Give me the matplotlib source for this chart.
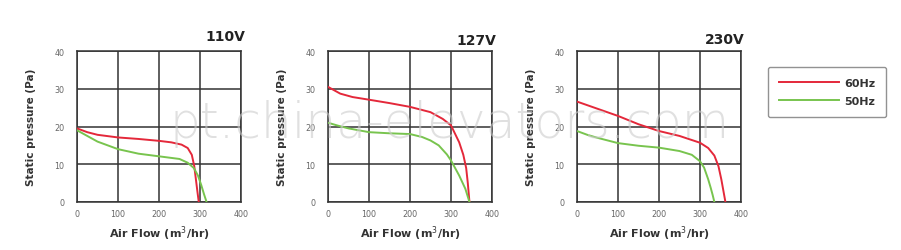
import matplotlib
matplotlib.use("Agg")
import matplotlib.pyplot as plt
from matplotlib.lines import Line2D

# Fan curves: airflow (m3/hr) -> static pressure (Pa)
titles = ["110V", "127V", "230V"]

flow_60_110 = [0, 25, 50, 100, 150, 200, 230, 255, 270, 280, 286, 290, 294, 297]
pres_60_110 = [19.5, 18.5, 17.8, 17.1, 16.7, 16.2, 15.8, 15.2, 14.3, 12.5, 9.5, 6.0, 2.5, 0]
flow_50_110 = [0, 25, 50, 100, 150, 200, 250, 270, 285, 295, 303, 310, 316]
pres_50_110 = [19.0, 17.5, 16.0, 14.0, 12.8, 12.1, 11.4, 10.4, 9.0, 7.0, 4.5, 2.0, 0]

flow_60_127 = [0, 15, 30, 60, 100, 150, 200, 250, 280, 300, 320, 330, 337, 341, 345]
pres_60_127 = [30.5, 29.6, 28.7, 27.8, 27.1, 26.2, 25.2, 23.8, 22.0, 20.3, 15.8, 12.5, 9.0, 5.0, 0]
flow_50_127 = [0, 25, 50, 100, 150, 200, 230, 250, 270, 290, 300, 320, 335, 345]
pres_50_127 = [21.0, 20.2, 19.5, 18.5, 18.2, 18.0, 17.2, 16.3, 15.0, 12.6, 11.0, 7.0, 3.5, 0]

flow_60_230 = [0, 50, 100, 150, 200, 250, 300, 320, 335, 345, 352, 357, 362]
pres_60_230 = [26.6, 24.7, 22.8, 20.6, 18.8, 17.5, 15.7, 14.3, 12.3, 9.5, 6.0, 3.0, 0]
flow_50_230 = [0, 25, 50, 100, 150, 200, 250, 280, 300, 310, 320, 326, 331, 335]
pres_50_230 = [18.8, 17.8, 17.0, 15.6, 14.9, 14.4, 13.5, 12.5, 10.8, 9.1, 6.0, 3.8, 1.8, 0]

series = [
    (flow_60_110, pres_60_110, flow_50_110, pres_50_110),
    (flow_60_127, pres_60_127, flow_50_127, pres_50_127),
    (flow_60_230, pres_60_230, flow_50_230, pres_50_230),
]

x_ticks = [0, 100, 200, 300, 400]
y_ticks = [0, 10, 20, 30, 40]

RED = "#e4283a"
GREEN = "#78c44e"

fig = plt.figure(figsize=(9.01, 2.51), dpi=100, facecolor="white")

W, H = 901, 251
lefts = [77, 328, 577]
ax_w, ax_top, ax_bot = 164, 52, 203
title_y = [37, 41, 40]

for i, (f60, p60, f50, p50) in enumerate(series):
    ax = fig.add_axes([lefts[i] / W, (H - ax_bot) / H, ax_w / W, (ax_bot - ax_top) / H])
    ax.plot(f60, p60, color=RED, lw=1.4, zorder=3)
    ax.plot(f50, p50, color=GREEN, lw=1.4, zorder=3)
    ax.set_xlim(0, 400)
    ax.set_ylim(0, 40)
    ax.set_xticks(x_ticks)
    ax.set_yticks(y_ticks)
    ax.grid(True, color="#333333", lw=1.1)
    ax.tick_params(length=0, labelsize=5.8, labelcolor="#666666")
    ax.tick_params(axis="x", pad=5)
    ax.tick_params(axis="y", pad=9)
    for s in ax.spines.values():
        s.set_color("#333333")
        s.set_linewidth(1.1)
    ax.set_xlabel("Air Flow (m$^3$/hr)", fontsize=8, fontweight="bold",
                  color="#333333", labelpad=4)
    ax.set_ylabel("Static pressure (Pa)", fontsize=7.5, fontweight="bold",
                  color="#333333", labelpad=13)
    fig.text((lefts[i] + ax_w + 4) / W, 1 - title_y[i] / H, titles[i],
             ha="right", va="center", fontsize=10, fontweight="bold", color="#222222")

handles = [Line2D([], [], color=RED, lw=1.4), Line2D([], [], color=GREEN, lw=1.4)]
leg = fig.legend(handles, ["60Hz", "50Hz"], loc="center",
                 bbox_to_anchor=(827 / W, 1 - 93 / H), fontsize=8,
                 handlelength=5.4, handletextpad=0.5, labelspacing=0.75,
                 borderpad=1.0, borderaxespad=0, frameon=True, fancybox=True)
leg.get_frame().set_edgecolor("#777777")
leg.get_frame().set_linewidth(1.0)
for t in leg.get_texts():
    t.set_fontweight("bold")
    t.set_color("#333333")

# watermark across the middle of the picture
fig.text(450 / W, 1 - 124 / H, "pt.china-elevators.com", ha="center", va="center",
         fontsize=35, color="#cccccc", alpha=0.6, family="DejaVu Sans",
         fontweight="light", zorder=10)

fig.savefig("out.png", dpi=100, facecolor="white")
